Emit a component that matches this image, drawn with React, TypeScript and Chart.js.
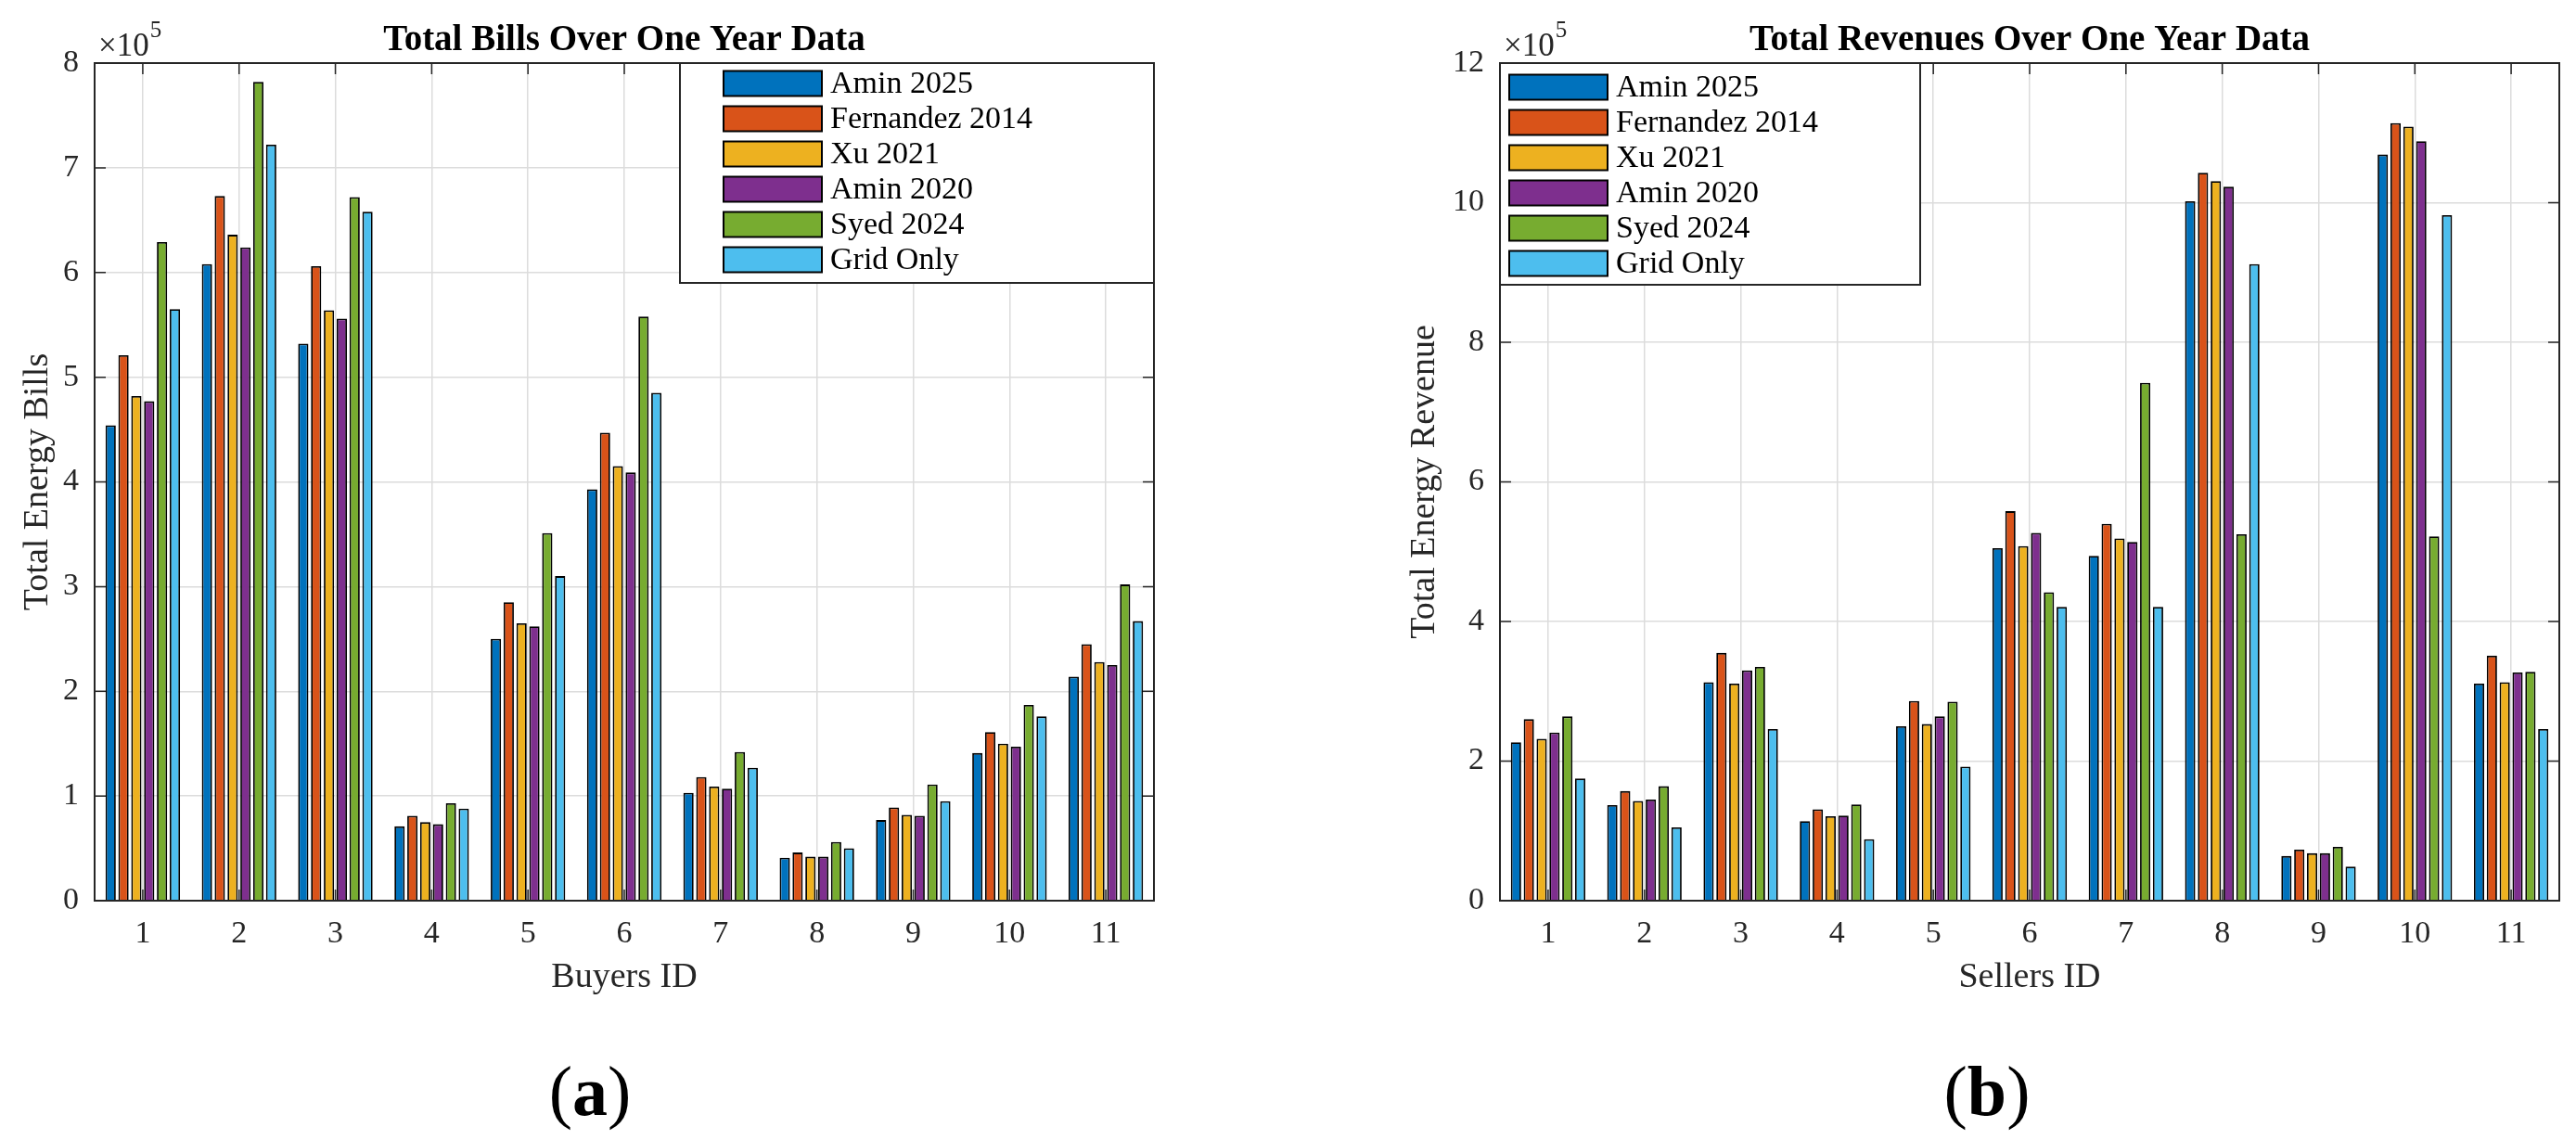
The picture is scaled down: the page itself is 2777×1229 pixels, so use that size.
import { useEffect, useRef } from "react";
import { Chart, registerables } from "chart.js";

Chart.register(...registerables);
Chart.defaults.font.family = '"Liberation Serif", "Times New Roman", serif';

const seriesNames = ["Amin 2025", "Fernandez 2014", "Xu 2021", "Amin 2020", "Syed 2024", "Grid Only"];
const seriesColors = ["#0072BD", "#D95319", "#EDB120", "#7E2F8E", "#77AC30", "#4DBEEE"];

const buyerIds = ["1", "2", "3", "4", "5", "6", "7", "8", "9", "10", "11"];
const sellerIds = ["1", "2", "3", "4", "5", "6", "7", "8", "9", "10", "11"];

// total bills per buyer
const billsAmin2025 = [454000, 608000, 532000, 71000, 250000, 393000, 103000, 41000, 77000, 141000, 214000];
const billsFernandez2014 = [521000, 673000, 606000, 81000, 285000, 447000, 118000, 46000, 89000, 161000, 245000];
const billsXu2021 = [482000, 636000, 564000, 75000, 265000, 415000, 109000, 42000, 82000, 150000, 228000];
const billsAmin2020 = [477000, 624000, 556000, 73000, 262000, 409000, 107000, 42000, 81000, 147000, 225000];
const billsSyed2024 = [629000, 782000, 672000, 93000, 351000, 558000, 142000, 56000, 111000, 187000, 302000];
const billsGridOnly = [565000, 722000, 658000, 88000, 310000, 485000, 127000, 50000, 95000, 176000, 267000];

// total revenues per seller
const revAmin2025 = [227000, 137000, 313000, 114000, 250000, 505000, 494000, 1002000, 64000, 1069000, 311000];
const revFernandez2014 = [260000, 157000, 355000, 131000, 286000, 558000, 540000, 1043000, 73000, 1114000, 351000];
const revXu2021 = [232000, 143000, 311000, 121000, 253000, 508000, 519000, 1031000, 68000, 1109000, 313000];
const revAmin2020 = [241000, 145000, 330000, 122000, 264000, 527000, 514000, 1023000, 68000, 1088000, 327000];
const revSyed2024 = [264000, 164000, 335000, 138000, 285000, 442000, 742000, 525000, 77000, 522000, 328000];
const revGridOnly = [175000, 105000, 246000, 88000, 192000, 421000, 421000, 912000, 49000, 982000, 246000];

const billsTicksMax = 800000;
const billsTickStep = 100000;
const revTicksMax = 1200000;
const revTickStep = 200000;

const AXIS = "#262626";
const SERIF = '"Liberation Serif", "Times New Roman", serif';

const matlabDecor = {
  id: "matlabDecor",
  afterDatasetsDraw(chart: any, _args: any, opts: any) {
    const { ctx, chartArea: ca } = chart;
    const xs = chart.scales.x;
    const ys = chart.scales.y;
    ctx.save();

    // inward tick marks on all four sides
    ctx.strokeStyle = AXIS;
    ctx.lineWidth = 1.5;
    ctx.beginPath();
    ys.ticks.forEach((_t: any, i: number) => {
      const y = ys.getPixelForTick(i);
      ctx.moveTo(ca.left, y);
      ctx.lineTo(ca.left + 12, y);
      ctx.moveTo(ca.right, y);
      ctx.lineTo(ca.right - 12, y);
    });
    xs.ticks.forEach((_t: any, i: number) => {
      const x = xs.getPixelForTick(i);
      ctx.moveTo(x, ca.bottom);
      ctx.lineTo(x, ca.bottom - 12);
      ctx.moveTo(x, ca.top);
      ctx.lineTo(x, ca.top + 12);
    });
    ctx.stroke();

    ctx.lineWidth = 2;
    ctx.strokeRect(ca.left, ca.top, ca.right - ca.left, ca.bottom - ca.top);

    // title
    ctx.fillStyle = "#000";
    ctx.font = `bold 39px ${SERIF}`;
    ctx.textAlign = "center";
    ctx.textBaseline = "alphabetic";
    ctx.fillText(opts.title, (ca.left + ca.right) / 2, ca.top - 14);

    // exponent label
    ctx.fillStyle = AXIS;
    ctx.textAlign = "left";
    ctx.font = `35px ${SERIF}`;
    const base = "\u00d710";
    ctx.fillText(base, ca.left + 4, ca.top - 8);
    const w = ctx.measureText(base).width;
    ctx.font = `25px ${SERIF}`;
    ctx.fillText("5", ca.left + 5 + w, ca.top - 28);

    // legend box
    const bx = opts.legendSide === "right" ? ca.right - opts.legendWidth : ca.left;
    const by = ca.top;
    ctx.fillStyle = "#fff";
    ctx.fillRect(bx, by, opts.legendWidth, opts.legendHeight);
    ctx.strokeStyle = AXIS;
    ctx.lineWidth = 2;
    ctx.strokeRect(bx, by, opts.legendWidth, opts.legendHeight);

    ctx.font = `34px ${SERIF}`;
    ctx.textBaseline = "middle";
    chart.data.datasets.forEach((ds: any, i: number) => {
      const cy = by + opts.firstRow + i * 38;
      const sx = bx + opts.swatchLeft;
      ctx.fillStyle = ds.backgroundColor;
      ctx.fillRect(sx, cy - 13.5, 106, 27);
      ctx.strokeStyle = "#000";
      ctx.lineWidth = 2;
      ctx.strokeRect(sx, cy - 13.5, 106, 27);
      ctx.fillStyle = "#000";
      ctx.fillText(ds.label, sx + 115, cy + 1);
    });

    ctx.restore();
  },
};

type PanelProps = {
  labels: string[];
  series: number[][];
  yMax: number;
  yStep: number;
  title: string;
  xTitle: string;
  yTitle: string;
  yAxisWidth: number;
  yTitlePad: number;
  padRight: number;
  legendSide: "left" | "right";
  legendWidth: number;
  legendHeight: number;
  swatchLeft: number;
  firstRow: number;
  left: number;
  width: number;
};

const BarPanel = (p: PanelProps) => {
  const canvasRef = useRef<HTMLCanvasElement | null>(null);
  const chartRef = useRef<Chart | null>(null);

  useEffect(() => {
    if (!canvasRef.current) return;
    if (chartRef.current) chartRef.current.destroy();

    chartRef.current = new Chart(canvasRef.current, {
      type: "bar",
      data: {
        labels: p.labels,
        datasets: p.series.map((data, i) => ({
          label: seriesNames[i],
          data,
          backgroundColor: seriesColors[i],
          borderColor: "#000",
          borderWidth: 1.8,
          categoryPercentage: 0.8,
          barPercentage: 0.8,
        })),
      },
      options: {
        responsive: true,
        maintainAspectRatio: false,
        animation: false,
        layout: { padding: { top: 68, left: 0, right: p.padRight, bottom: 148 } },
        plugins: {
          legend: { display: false },
          title: { display: false },
          tooltip: { enabled: false },
          matlabDecor: {
            title: p.title,
            legendSide: p.legendSide,
            legendWidth: p.legendWidth,
            legendHeight: p.legendHeight,
            swatchLeft: p.swatchLeft,
            firstRow: p.firstRow,
          },
        } as any,
        scales: {
          x: {
            grid: { color: "#dcdcdc", lineWidth: 1.5, offset: false, drawTicks: false },
            border: { display: true, color: AXIS, width: 2 },
            ticks: { color: AXIS, font: { size: 34 }, padding: 16 },
            title: {
              display: true,
              text: p.xTitle,
              color: AXIS,
              font: { size: 38 },
              padding: { top: 0, bottom: 4 },
            },
            afterFit: (s: any) => {
              s.height = 110;
            },
          },
          y: {
            min: 0,
            max: p.yMax,
            grid: { color: "#dcdcdc", lineWidth: 1.5, drawTicks: false },
            border: { display: true, color: AXIS, width: 2 },
            ticks: {
              stepSize: p.yStep,
              color: AXIS,
              font: { size: 34 },
              padding: 17,
              callback: (v: any) => String(Math.round(Number(v) / 100000)),
            },
            title: {
              display: true,
              text: p.yTitle,
              color: AXIS,
              font: { size: 38 },
              padding: { top: p.yTitlePad, bottom: 0 },
            },
            afterFit: (s: any) => {
              s.width = p.yAxisWidth;
            },
          },
        },
      },
      plugins: [matlabDecor as any],
    });

    return () => {
      if (chartRef.current) {
        chartRef.current.destroy();
        chartRef.current = null;
      }
    };
  }, []);

  return (
    <div style={{ position: "absolute", left: p.left, top: 0, width: p.width, height: 1229 }}>
      <canvas ref={canvasRef}></canvas>
    </div>
  );
};

const Caption = ({ x, letter }: { x: number; letter: string }) => (
  <div
    style={{
      position: "absolute",
      left: x,
      top: 1176,
      transform: "translate(-50%, -50%)",
      fontFamily: SERIF,
      fontSize: 76,
      lineHeight: 1,
      color: "#000",
      whiteSpace: "nowrap",
    }}
  >
    (<span style={{ fontWeight: "bold" }}>{letter}</span>)
  </div>
);

const App = () => {
  return (
    <div
      style={{
        position: "fixed",
        left: 0,
        top: 0,
        width: 2777,
        height: 1229,
        background: "#fff",
        overflow: "hidden",
      }}
    >
      <BarPanel
        labels={buyerIds}
        series={[billsAmin2025, billsFernandez2014, billsXu2021, billsAmin2020, billsSyed2024, billsGridOnly]}
        yMax={billsTicksMax}
        yStep={billsTickStep}
        title="Total Bills Over One Year Data"
        xTitle="Buyers ID"
        yTitle="Total Energy Bills"
        yAxisWidth={102}
        yTitlePad={18}
        padRight={144}
        legendSide="right"
        legendWidth={511}
        legendHeight={237}
        swatchLeft={47}
        firstRow={22}
        left={0}
        width={1388}
      />
      <BarPanel
        labels={sellerIds}
        series={[revAmin2025, revFernandez2014, revXu2021, revAmin2020, revSyed2024, revGridOnly]}
        yMax={revTicksMax}
        yStep={revTickStep}
        title="Total Revenues Over One Year Data"
        xTitle="Sellers ID"
        yTitle="Total Energy Revenue"
        yAxisWidth={229}
        yTitlePad={125}
        padRight={18}
        legendSide="left"
        legendWidth={453}
        legendHeight={239}
        swatchLeft={10}
        firstRow={26}
        left={1388}
        width={1389}
      />
      <Caption x={636} letter="a" />
      <Caption x={2142} letter="b" />
    </div>
  );
};

export default App;
